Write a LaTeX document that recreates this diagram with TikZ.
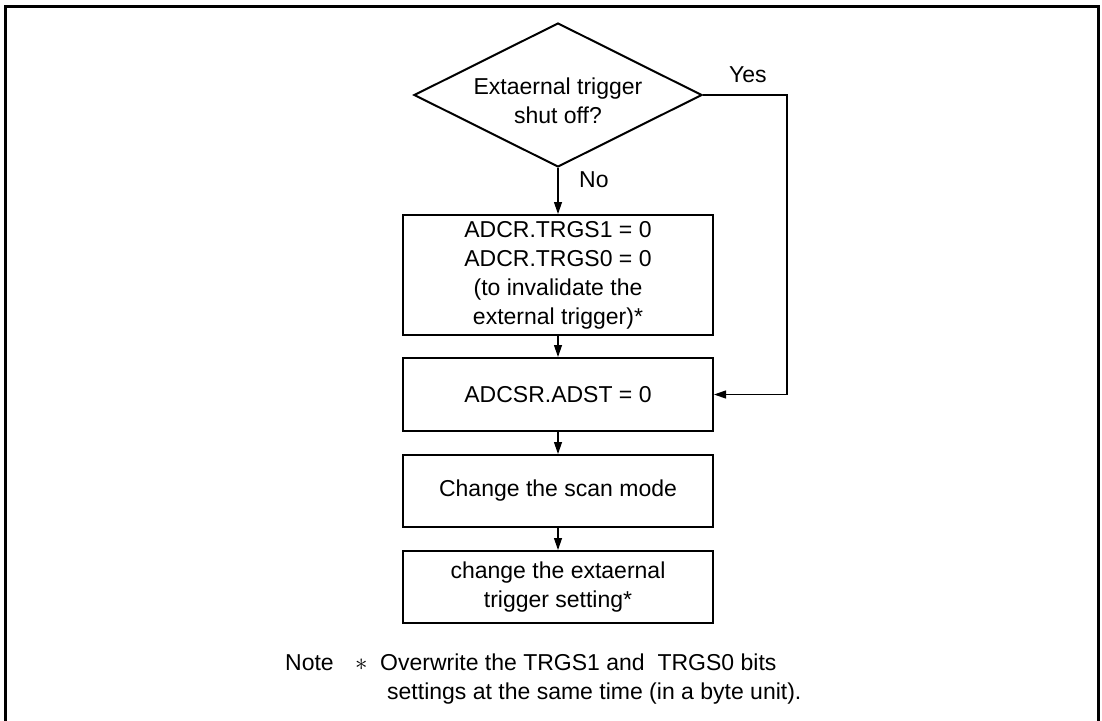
\documentclass[tikz,border=0pt]{standalone}
\usepackage{fontspec}
\setmainfont{Liberation Sans}
\usetikzlibrary{shapes.geometric,arrows.meta}
\begin{document}
\begin{tikzpicture}[x=1pt,y=-1pt,
  txt/.style={font=\fontsize{23}{29}\selectfont, align=center, inner sep=0pt},
  boxstyle/.style={draw, line width=2pt, minimum width=310pt, txt},
  decstyle/.style={draw, line width=2pt, diamond, aspect=2, minimum width=288pt, minimum height=144pt, inner sep=0pt},
  conn/.style={line width=1.2pt, -{Triangle[length=12pt,width=8pt]}},
  frame/.style={line width=3pt}]
\useasboundingbox (0,0) rectangle (1102,720);
% outer frame (open at the bottom)
\draw[frame] (5,730) -- (5,6) -- (1098.5,6) -- (1098.5,730);
% nodes
\node[decstyle] (dec) at (558,95) {};
\node[txt] (dectext) at (558,101) {Extaernal trigger\\shut off?};
\node[boxstyle, minimum height=120pt] (b1) at (558,275) {ADCR.TRGS1 = 0\\ADCR.TRGS0 = 0\\(to invalidate the\\external trigger)*};
\node[boxstyle, minimum height=73pt] (b2) at (558,394.5) {ADCSR.ADST = 0};
\node[boxstyle, minimum height=72pt] (b3) at (558,491) {Change the scan mode};
\node[boxstyle, minimum height=72pt] (b4) at (558,587) {change the extaernal\\trigger setting*};
% labels
\node[txt, anchor=base west] (yes) at (729,82) {Yes};
\node[txt, anchor=base west] (no) at (579,187) {No};
% connectors
\coordinate (yc) at (787,95);
\draw[conn] (dec.south) -- (b1.north);
\draw[conn] (b1.south) -- (b2.north);
\draw[conn] (b2.south) -- (b3.north);
\draw[conn] (b3.south) -- (b4.north);
\draw[conn] (dec.east) -- (yc) |- (b2.east);
% note
\node[txt, anchor=base west] (note) at (285,670) {Note};
\node[txt, anchor=base west] (star) at (355,670) {$\ast$};
\node[txt, anchor=base west] (n1) at (380,670) {Overwrite the TRGS1 and\ \ TRGS0 bits};
\node[txt, anchor=base west] (n2) at (387,699) {settings at the same time (in a byte unit).};
\end{tikzpicture}
\end{document}
